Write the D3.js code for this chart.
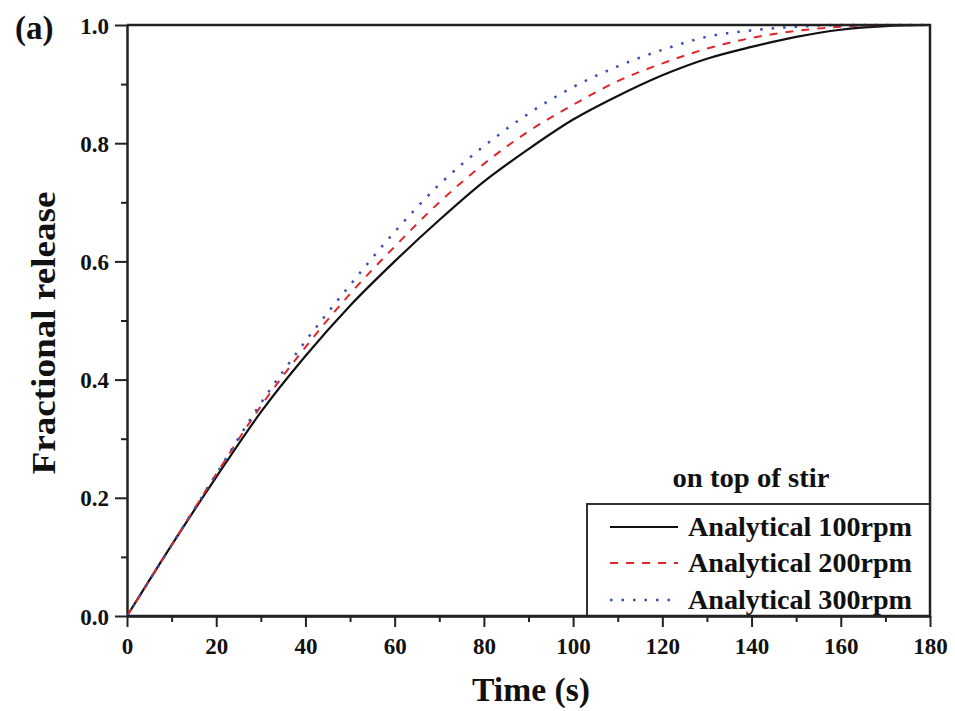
<!DOCTYPE html>
<html>
  <head>
    <script src="https://cdnjs.cloudflare.com/ajax/libs/d3/7.8.5/d3.min.js"></script>
    <style>
      body { margin: 0; background: #fff; }
      text { font-family: "Liberation Serif", "Times New Roman", serif; font-weight: bold; fill: #111; }
    </style>
  </head>
  <body>
    <div id="vis"></div>
    <script type="text/javascript">

        // time (s) and fractional release
        const times = [0, 10, 20, 30, 40, 50, 60, 70, 80, 90, 100, 110, 120, 130, 140, 150, 160, 170, 180];
        const release100 = [0, 0.12, 0.235, 0.345, 0.44, 0.525, 0.60, 0.67, 0.735, 0.79, 0.84, 0.88, 0.915, 0.943, 0.963, 0.98, 0.992, 0.998, 1.0];
        const release200 = [0, 0.12, 0.24, 0.355, 0.455, 0.545, 0.625, 0.70, 0.765, 0.82, 0.865, 0.905, 0.935, 0.96, 0.978, 0.99, 0.997, 1.0, 1.0];
        const release300 = [0, 0.12, 0.24, 0.36, 0.465, 0.56, 0.65, 0.73, 0.795, 0.85, 0.895, 0.93, 0.958, 0.98, 0.991, 0.997, 1.0, 1.0, 1.0];

        const seriesNames = ["Analytical 100rpm", "Analytical 200rpm", "Analytical 300rpm"];
        const xTicks = [0, 20, 40, 60, 80, 100, 120, 140, 160, 180];
        const yTicks = [0, 0.2, 0.4, 0.6, 0.8, 1.0];

        const W = 955, H = 711;
        const pLeft = 127, pRight = 930, pTop = 25, pBottom = 616;

        const svg = d3.select("#vis").append("svg")
            .attr("width", W)
            .attr("height", H);

        const x = d3.scaleLinear().domain([0, 180]).range([pLeft, pRight]);
        const y = d3.scaleLinear().domain([0, 1]).range([pBottom, pTop]);

        // minor ticks
        svg.append("g")
            .attr("transform", `translate(0,${pBottom})`)
            .call(d3.axisBottom(x).tickValues(d3.range(10, 180, 20)).tickSize(6).tickFormat(""))
            .call(g => g.select(".domain").remove());
        svg.append("g")
            .attr("transform", `translate(${pLeft},0)`)
            .call(d3.axisLeft(y).tickValues([0.1, 0.3, 0.5, 0.7, 0.9]).tickSize(6).tickFormat(""))
            .call(g => g.select(".domain").remove());

        const xAxis = svg.append("g")
            .attr("transform", `translate(0,${pBottom})`)
            .call(d3.axisBottom(x).tickValues(xTicks).tickSize(11).tickSizeOuter(0).tickPadding(11).tickFormat(d3.format("d")));
        const yAxis = svg.append("g")
            .attr("transform", `translate(${pLeft},0)`)
            .call(d3.axisLeft(y).tickValues(yTicks).tickSize(12).tickSizeOuter(0).tickPadding(6).tickFormat(d3.format(".1f")));

        svg.selectAll(".tick line").attr("stroke", "#222").attr("stroke-width", 2);
        [xAxis, yAxis].forEach(a => {
            a.select(".domain").attr("stroke", "#222").attr("stroke-width", 2.5);
            a.selectAll("text")
                .attr("fill", "#111")
                .style("font-family", "'Liberation Serif', serif")
                .style("font-weight", "bold")
                .style("font-size", "23px");
        });
        yAxis.selectAll("text").attr("dy", "0.35em");

        // curves
        const line = d3.line()
            .x((d, i) => x(times[i]))
            .y(d => y(d))
            .curve(d3.curveMonotoneX);

        const styles = [
            {color: "#111", width: 2.2, dash: null},
            {color: "#e0262b", width: 2, dash: "8,8"},
            {color: "#3a4fb0", width: 2.5, dash: "2.5,9"}
        ];
        const allSeries = [release100, release200, release300];

        svg.selectAll("path.curve")
            .data(allSeries)
            .enter()
            .append("path")
            .attr("class", "curve")
            .attr("d", line)
            .attr("fill", "none")
            .attr("stroke", (d, i) => styles[i].color)
            .attr("stroke-width", (d, i) => styles[i].width)
            .attr("stroke-dasharray", (d, i) => styles[i].dash);

        // legend
        const lg = {x0: 587, y0: 504};
        svg.append("text")
            .attr("x", 751)
            .attr("y", 487)
            .attr("text-anchor", "middle")
            .style("font-size", "27px")
            .attr("textLength", 157)
            .attr("lengthAdjust", "spacingAndGlyphs")
            .text("on top of stir");

        svg.append("rect")
            .attr("x", lg.x0)
            .attr("y", lg.y0)
            .attr("width", pRight - lg.x0)
            .attr("height", pBottom - lg.y0)
            .attr("fill", "#fff")
            .attr("stroke", "#333")
            .attr("stroke-width", 2);

        const rows = [527, 563, 600];
        seriesNames.forEach((name, i) => {
            svg.append("line")
                .attr("x1", 610).attr("x2", 678)
                .attr("y1", rows[i]).attr("y2", rows[i])
                .attr("stroke", styles[i].color)
                .attr("stroke-width", styles[i].width)
                .attr("stroke-dasharray", styles[i].dash);
            svg.append("text")
                .attr("x", 688)
                .attr("y", rows[i] + 9)
                .style("font-size", "27px")
                .attr("textLength", 224)
                .attr("lengthAdjust", "spacingAndGlyphs")
                .text(name);
        });

        // frame: top and right, plus axis lines redrawn over the legend box
        svg.append("path")
            .attr("d", `M${pLeft},${pBottom}H${pRight}V${pTop}H${pLeft}`)
            .attr("fill", "none")
            .attr("stroke", "#222")
            .attr("stroke-width", 2.5);

        // axis titles
        svg.append("text")
            .attr("x", 531)
            .attr("y", 701)
            .attr("text-anchor", "middle")
            .style("font-size", "33px")
            .attr("textLength", 118)
            .attr("lengthAdjust", "spacingAndGlyphs")
            .text("Time (s)");

        svg.append("text")
            .attr("transform", `translate(55,333) rotate(-90)`)
            .attr("text-anchor", "middle")
            .style("font-size", "33px")
            .attr("textLength", 283)
            .attr("lengthAdjust", "spacingAndGlyphs")
            .text("Fractional release");

        svg.append("text")
            .attr("x", 15)
            .attr("y", 39)
            .style("font-size", "33px")
            .text("(a)");

    </script>
  </body>
</html>
